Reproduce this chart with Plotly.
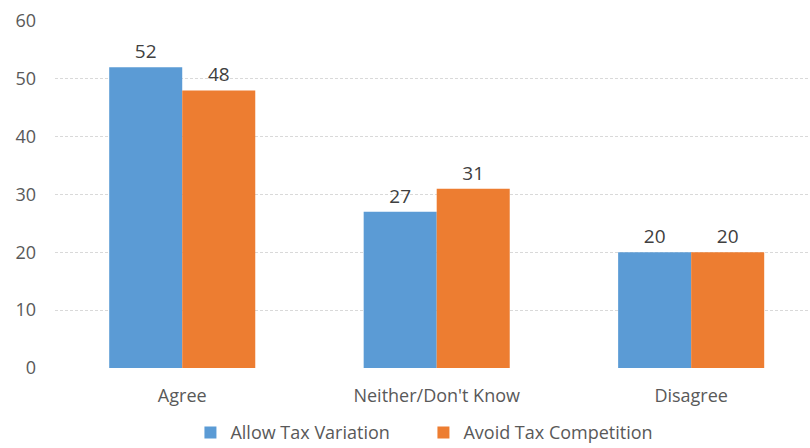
import plotly.graph_objects as go

categories = ["Agree", "Neither/Don't Know", "Disagree"]
allow_tax_variation = [52, 27, 20]
avoid_tax_competition = [48, 31, 20]

fig = go.Figure()
fig.add_trace(go.Bar(
    name="Allow Tax Variation", x=categories, y=allow_tax_variation,
    marker=dict(color="#5B9BD5", line=dict(width=0)),
    text=allow_tax_variation, textposition="outside", cliponaxis=False,
    textfont=dict(size=19, color="#404040"),
))
fig.add_trace(go.Bar(
    name="Avoid Tax Competition", x=categories, y=avoid_tax_competition,
    marker=dict(color="#ED7D31", line=dict(width=0)),
    text=avoid_tax_competition, textposition="outside", cliponaxis=False,
    textfont=dict(size=19, color="#404040"),
))

fig.update_layout(
    width=810, height=448,
    margin=dict(l=55, r=0, t=21, b=80, autoexpand=False),
    paper_bgcolor="white", plot_bgcolor="white",
    font=dict(family="Open Sans, Noto Sans, sans-serif", color="#595959", size=18),
    barmode="group", bargap=0.426, bargroupgap=0,
    showlegend=True,
    legend=dict(orientation="h", x=0.488, xanchor="center",
                yref="container", y=0.034, yanchor="middle",
                font=dict(size=18, color="#595959"), itemwidth=30,
                entrywidth=188, traceorder="normal"),
    xaxis=dict(range=[-0.5, 2.467], showgrid=False, showline=False, ticks="",
               ticklabelstandoff=15, automargin=False,
               tickfont=dict(size=18, color="#595959")),
    yaxis=dict(range=[0, 60], dtick=10, showgrid=True, gridcolor="#D9D9D9",
               griddash="3px,2px", gridwidth=1, zeroline=False, showline=False,
               ticks="", ticklabelstandoff=18, automargin=False,
               tickfont=dict(size=18, color="#595959")),
)

fig.write_html("out.html")
